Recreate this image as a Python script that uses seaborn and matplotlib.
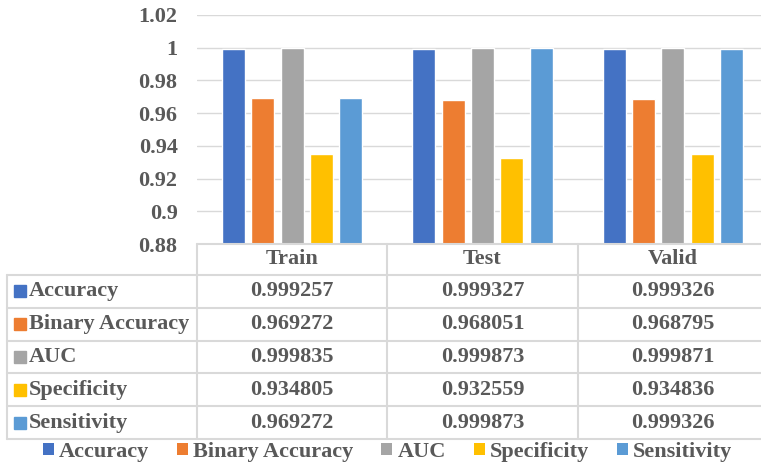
import pandas as pd
import seaborn as sns
import matplotlib.pyplot as plt
from matplotlib.patches import Patch
from matplotlib.lines import Line2D
import matplotlib.transforms as mtransforms

# -------------------------------
# Data
# -------------------------------
splits = ["Train", "Test", "Valid"]
metrics = ["Accuracy", "Binary Accuracy", "AUC", "Specificity", "Sensitivity"]
accuracy = [0.999257, 0.999327, 0.999326]
binary_accuracy = [0.969272, 0.968051, 0.968795]
auc = [0.999835, 0.999873, 0.999871]
specificity = [0.934805, 0.932559, 0.934836]
sensitivity = [0.969272, 0.999873, 0.999326]
colors = ["#4472C4", "#ED7D31", "#A5A5A5", "#FFC000", "#5B9BD5"]

series = [accuracy, binary_accuracy, auc, specificity, sensitivity]
rows = []
for m, vals in zip(metrics, series):
    for s, v in zip(splits, vals):
        rows.append({"split": s, "metric": m, "value": v})
df = pd.DataFrame(rows)

# -------------------------------
# Style
# -------------------------------
sns.set_theme(style="white")
plt.rcParams["font.family"] = ["Liberation Serif", "DejaVu Serif"]
plt.rcParams["font.weight"] = "bold"
text_color = "#595959"
line_color = "#d9d9d9"
fs = 16

W, H = 761, 468
fig = plt.figure(figsize=(W / 100, H / 100), dpi=100)
ax_l, ax_r, ax_t, ax_b = 197, 768, 15, 244
ax = fig.add_axes([ax_l / W, (H - ax_b) / H, (ax_r - ax_l) / W, (ax_b - ax_t) / H])

sns.barplot(
    data=df, x="split", y="value", hue="metric",
    order=splits, hue_order=metrics, palette=colors,
    width=0.77, gap=0.22, saturation=1, legend=False, ax=ax,
)

ax.set_ylim(0.88, 1.02)
ax.set_xlim(-0.5, 2.5)
ax.set_yticks([0.88 + 0.02 * i for i in range(8)])
ax.set_yticklabels([f"{0.88 + 0.02 * i:g}" for i in range(8)])
ax.yaxis.grid(True, color=line_color, lw=1)
ax.set_axisbelow(True)
ax.tick_params(axis="y", length=0, pad=14, labelsize=fs, labelcolor=text_color)
ax.set_xticks([])
ax.set_xlabel("")
ax.set_ylabel("")
for sp in ax.spines.values():
    sp.set_visible(False)
for lab in ax.get_yticklabels():
    lab.set_fontweight("bold")

# -------------------------------
# Data table under the chart
# -------------------------------
px_h = ax_b - ax_t
head_h = 31 / px_h
row_h = 32.8 / px_h
left_x = (7 - ax_l) / (ax_r - ax_l)
blend = mtransforms.blended_transform_factory(ax.transData, ax.transAxes)

y_edges = [0, -head_h] + [-head_h - row_h * (k + 1) for k in range(len(metrics))]
bottom = y_edges[-1]

line_kw = dict(color=line_color, lw=1.5, clip_on=False)
# horizontal lines
ax.add_line(Line2D([0, 1], [0, 0], transform=ax.transAxes, **line_kw))
for y in y_edges[1:]:
    ax.add_line(Line2D([left_x, 1], [y, y], transform=ax.transAxes, **line_kw))
# vertical lines
ax.add_line(Line2D([left_x, left_x], [y_edges[1], bottom], transform=ax.transAxes, **line_kw))
for xb in [-0.5, 0.5, 1.5, 2.5]:
    ax.add_line(Line2D([xb, xb], [0, bottom], transform=blend, **line_kw))

# header
for i, s in enumerate(splits):
    ax.text(i, -head_h / 2, s, transform=blend, ha="center", va="center",
            fontsize=fs, fontweight="bold", color=text_color)

# rows
sq_x = (19.5 - ax_l) / (ax_r - ax_l)
lab_x = (29 - ax_l) / (ax_r - ax_l)
for r, (m, vals, c) in enumerate(zip(metrics, series, colors)):
    yc = -head_h - row_h * (r + 0.5)
    ax.plot([sq_x], [yc], marker="s", ms=8, color=c, transform=ax.transAxes, clip_on=False)
    ax.text(lab_x, yc, m, transform=ax.transAxes, ha="left", va="center",
            fontsize=fs, fontweight="bold", color=text_color)
    for i, v in enumerate(vals):
        ax.text(i, yc, f"{v:.6f}", transform=blend, ha="center", va="center",
                fontsize=fs, fontweight="bold", color=text_color)

# -------------------------------
# Legend
# -------------------------------
handles = [Patch(facecolor=c, edgecolor="none") for c in colors]
leg = fig.legend(
    handles, metrics, loc="center", ncol=5, frameon=False,
    bbox_to_anchor=(387.5 / W, (H - 452) / H),
    fontsize=fs, handlelength=0.5, handleheight=0.5,
    handletextpad=0.22, columnspacing=1.26, borderaxespad=0,
)
for t in leg.get_texts():
    t.set_color(text_color)
    t.set_fontweight("bold")

fig.savefig("out.png", dpi=100)
